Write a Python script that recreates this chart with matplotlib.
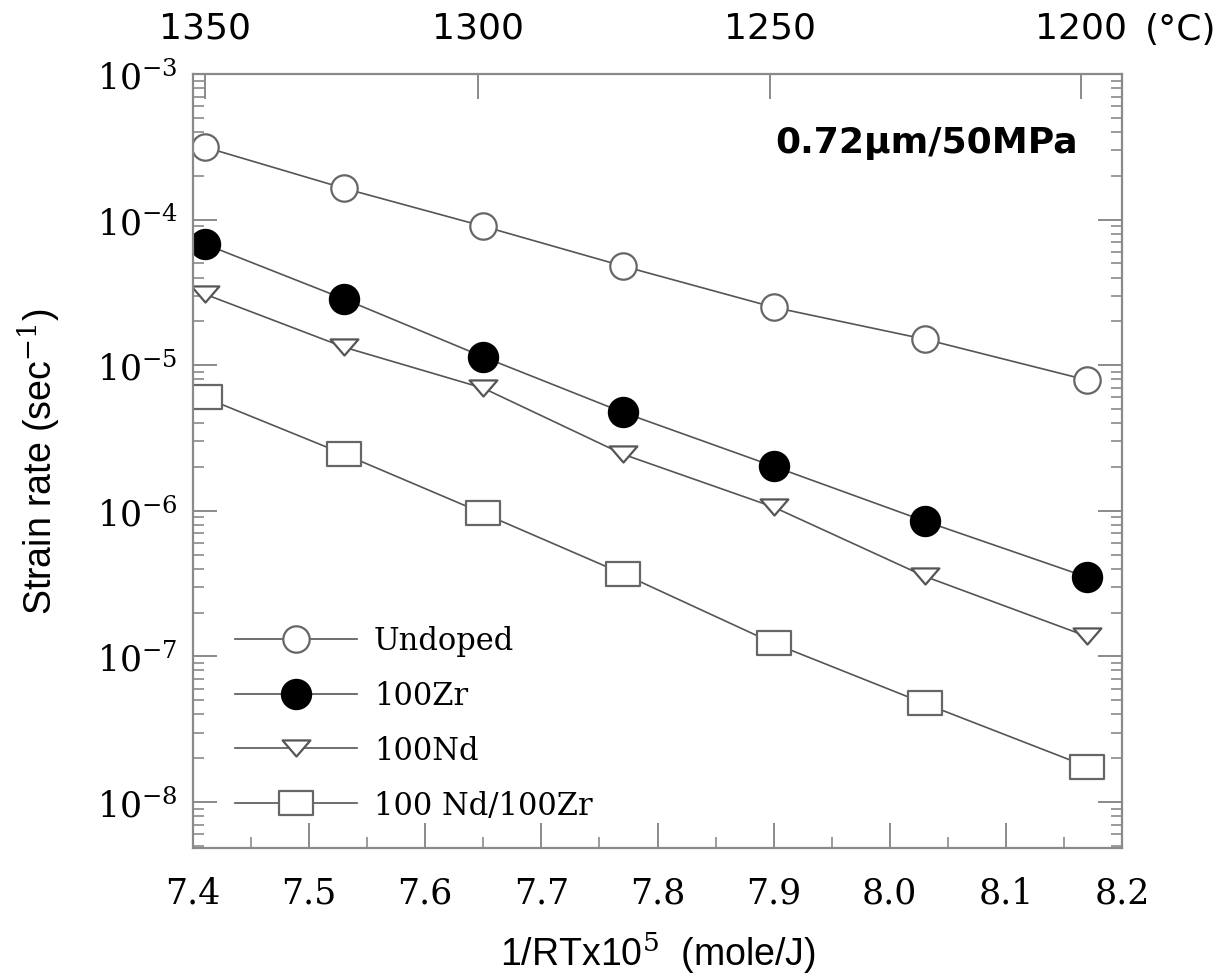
import numpy as np
import matplotlib
matplotlib.use('Agg')
import matplotlib.pyplot as plt
from matplotlib.path import Path
from matplotlib.ticker import MultipleLocator, LogLocator, NullFormatter, FixedLocator

# 1/RT x 10^5 (mole/J) for each test temperature
inv_rt = [7.41, 7.53, 7.65, 7.77, 7.90, 8.03, 8.17]

# strain rates (1/s)
undoped = [3.15e-4, 1.64e-4, 9.0e-5, 4.8e-5, 2.5e-5, 1.51e-5, 7.9e-6]
zr100 = [6.8e-5, 2.85e-5, 1.14e-5, 4.75e-6, 2.02e-6, 8.5e-7, 3.5e-7]
nd100 = [3.08e-5, 1.33e-5, 6.95e-6, 2.45e-6, 1.06e-6, 3.55e-7, 1.37e-7]
ndzr = [6.0e-6, 2.45e-6, 9.6e-7, 3.7e-7, 1.23e-7, 4.75e-8, 1.75e-8]

series_labels = ['Undoped', '100Zr', '100Nd', '100 Nd/100Zr']
x_ticks = [7.4, 7.5, 7.6, 7.7, 7.8, 7.9, 8.0, 8.1, 8.2]
x_ticklabels = ['7.4', '7.5', '7.6', '7.7', '7.8', '7.9', '8.0', '8.1', '8.2']
temp_ticks = [1350, 1300, 1250, 1200]

R = 8.314


def x_to_temp(x):
    x = np.asarray(x, dtype=float)
    return 1e5 / (R * x) - 273.15


def temp_to_x(t):
    t = np.asarray(t, dtype=float)
    return 1e5 / (R * (t + 273.15))


plt.rcParams['font.family'] = ['DejaVu Serif']
plt.rcParams['mathtext.fontset'] = 'custom'
plt.rcParams['mathtext.rm'] = 'DejaVu Serif'

fig = plt.figure(figsize=(12.32, 9.79), dpi=100)
ax = fig.add_axes([0.1567, 0.1328, 0.7540, 0.7906])

# squashed marker shapes (the scanned figure is stretched sideways)
tri = Path([(-1, 0.58), (1, 0.58), (0, -0.58), (-1, 0.58)], closed=True)
sq = Path([(-1, -0.73), (1, -0.73), (1, 0.73), (-1, 0.73), (-1, -0.73)], closed=True)

line_kw = dict(color='#555555', lw=1.2, mew=1.6)
ax.plot(inv_rt, undoped, marker='o', ms=19, mfc='white', mec='#666666', label=series_labels[0], **line_kw)
ax.plot(inv_rt, zr100, marker='o', ms=21, mfc='black', mec='black', label=series_labels[1], **line_kw)
ax.plot(inv_rt, nd100, marker=tri, ms=20, mfc='white', mec='#555555', label=series_labels[2], **line_kw)
ax.plot(inv_rt, ndzr, marker=sq, ms=24, mfc='white', mec='#666666', label=series_labels[3], **line_kw)

ax.set_yscale('log')
ax.set_xlim(7.4, 8.2)
ax.set_ylim(10 ** -8.316, 1e-3)

ax.xaxis.set_major_locator(FixedLocator(x_ticks))
ax.set_xticklabels(x_ticklabels)
ax.xaxis.set_minor_locator(MultipleLocator(0.05))
ax.yaxis.set_major_locator(LogLocator(base=10, numticks=10))
ax.yaxis.set_minor_locator(LogLocator(base=10, subs=np.arange(2, 10), numticks=20))
ax.yaxis.set_minor_formatter(NullFormatter())

for s in ax.spines.values():
    s.set_color('#8a8a8a')
    s.set_linewidth(1.6)

ax.tick_params(which='major', direction='in', length=18, width=1.4, color='#8a8a8a',
               labelsize=25, top=False, right=True)
ax.tick_params(axis='x', which='major', pad=20)
ax.tick_params(axis='y', which='major', pad=11, length=17)
ax.tick_params(which='minor', direction='in', length=8, width=1.2, color='#8a8a8a',
               top=False, right=True)

# temperature scale on top
top = ax.secondary_xaxis('top', functions=(x_to_temp, temp_to_x))
top.set_xticks(temp_ticks)
top.set_xticklabels([str(t) for t in temp_ticks], family='DejaVu Sans')
top.xaxis.set_minor_locator(FixedLocator([]))
top.tick_params(direction='in', length=18, width=1.4, color='#8a8a8a', labelsize=26, pad=21)
top.spines['top'].set_visible(False)
fig.text(1145 / 1232, 1 - 30 / 979, '(°C)', family='DejaVu Sans', fontsize=26, ha='left', va='center')

ax.set_xlabel('1/RTx10$^5$  (mole/J)', family='Liberation Sans', fontsize=27, labelpad=14)
ax.set_ylabel('Strain rate (sec$^{-1}$)', family='Liberation Sans', fontsize=27, labelpad=24)

ax.text(0.952, 0.912, '0.72\u03bcm/50MPa', transform=ax.transAxes, family='DejaVu Sans',
        fontweight='bold', fontsize=26, ha='right', va='center')

leg = ax.legend(loc='lower left', bbox_to_anchor=(0.045, 0.035), frameon=False,
                fontsize=22, handlelength=4.0, handletextpad=0.55, labelspacing=0.78,
                borderpad=0, borderaxespad=0)

fig.savefig('out.png', dpi=100)
